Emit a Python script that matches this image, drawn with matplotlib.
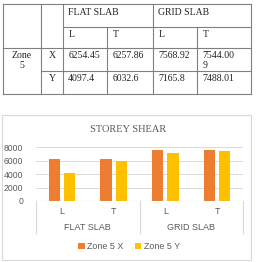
import matplotlib.pyplot as plt
import numpy as np

# chart data
groups = ['FLAT SLAB', 'GRID SLAB']
dirs = ['L', 'T', 'L', 'T']
zone5_x = [6254.45, 6257.86, 7568.92, 7544.009]
zone5_y = [4097.4, 6032.6, 7165.8, 7488.01]
series_names = ['Zone 5 X', 'Zone 5 Y']
yticks = [0, 2000, 4000, 6000, 8000]

# table text (as printed, with the wrapped cell)
table_x = ['6254.45', '6257.86', '7568.92', '7544.00\n9']
table_y = ['4097.4', '6032.6', '7165.8', '7488.01']

W, H = 256, 262
fig = plt.figure(figsize=(W / 100, H / 100), dpi=100)

# overlay in pixel coords for the table and frame
ov = fig.add_axes([0, 0, 1, 1])
ov.set_xlim(0, W)
ov.set_ylim(H, 0)
ov.axis('off')

lc = '#808080'
cols = [3.3, 40.7, 62.7, 107.3, 152.7, 197.3, 250.7]
rows = [4, 26.7, 48.3, 71, 94]


def hline(y, x0, x1):
    ov.plot([x0, x1], [y, y], color=lc, lw=0.8)


def vline(x, y0, y1):
    ov.plot([x, x], [y0, y1], color=lc, lw=0.8)


# outer box
hline(rows[0], cols[0], cols[-1])
hline(rows[-1], cols[0], cols[-1])
vline(cols[0], rows[0], rows[-1])
vline(cols[-1], rows[0], rows[-1])
# inner lines
hline(rows[1], cols[2], cols[-1])
hline(rows[2], cols[0], cols[-1])
hline(rows[3], cols[1], cols[-1])
vline(cols[1], rows[0], rows[-1])
vline(cols[2], rows[0], rows[-1])
vline(cols[4], rows[0], rows[-1])
vline(cols[3], rows[1], rows[-1])
vline(cols[5], rows[1], rows[-1])

tf = dict(family='Liberation Serif', fontsize=7, color='#222222', va='top',
          linespacing=1.05)
ov.text(cols[2] + 5.5, rows[0] + 4, groups[0], **tf)
ov.text(cols[4] + 5.5, rows[0] + 4, groups[1], **tf)
for i, d in enumerate(dirs):
    ov.text(cols[2 + i] + 5.5, rows[1] + 3.5, d, **tf)
ov.text((cols[0] + cols[1]) / 2, rows[2] + 3, 'Zone\n5', ha='center', **tf)
ov.text((cols[1] + cols[2]) / 2 - 3, rows[2] + 3, 'X', **tf)
ov.text((cols[1] + cols[2]) / 2 - 3, rows[3] + 3, 'Y', **tf)
for i in range(4):
    ov.text(cols[2 + i] + 5.5, rows[2] + 3, table_x[i], **tf)
    ov.text(cols[2 + i] + 5.5, rows[3] + 3, table_y[i], **tf)

# chart frame
ov.add_patch(plt.Rectangle((1.7, 115), 249, 145, fill=False,
                           edgecolor='#d9d9d9', lw=0.8))
ov.text(127.7, 129, 'STOREY SHEAR', family='Liberation Serif', fontsize=7.5,
        color='#595959', ha='center', va='center')

# chart axes
px0, px1, py_top, py_bot = 36, 243, 147.3, 201
ax = fig.add_axes([px0 / W, (H - py_bot) / H, (px1 - px0) / W,
                   (py_bot - py_top) / H])
x = np.arange(len(dirs))
bw = 0.218
off = 0.148
ax.bar(x - off, zone5_x, bw, color='#ED7D31', label=series_names[0], zorder=3)
ax.bar(x + off, zone5_y, bw, color='#FFC000', label=series_names[1], zorder=3)
ax.set_xlim(-0.5, len(dirs) - 0.5)
ax.set_ylim(0, 8000)
ax.set_yticks(yticks)
ax.set_yticklabels([str(t) for t in yticks], family='Liberation Sans',
                   fontsize=6.2, color='#595959')
ax.tick_params(axis='y', length=0, pad=9)
ax.set_xticks([])
for s in ax.spines.values():
    s.set_visible(False)
ax.grid(axis='y', color='#d9d9d9', lw=0.7, zorder=0)
ax.axhline(0, color='#bfbfbf', lw=0.8, zorder=4)

# category labels below axis
ah = py_bot - py_top
tr = ax.get_xaxis_transform()
for i, d in enumerate(dirs):
    ax.text(i, -(211.7 - py_bot) / ah, d, transform=tr, ha='center',
            va='center', family='Liberation Sans', fontsize=6.5,
            color='#595959')
for g, name in enumerate(groups):
    ax.text(2 * g + 0.5, -(227.7 - py_bot) / ah, name, transform=tr,
            ha='center', va='center', family='Liberation Sans', fontsize=6.5,
            color='#595959')
for xs in [-0.5, 1.5, 3.5]:
    ax.plot([xs, xs], [0, -(233 - py_bot) / ah], transform=tr,
            color='#d9d9d9', lw=0.8, clip_on=False)

ax.legend(loc='center', bbox_to_anchor=(0.45, -(246.7 - py_bot) / ah),
          ncol=2, frameon=False, handlelength=0.7, handleheight=0.7,
          handletextpad=0.3, columnspacing=1.3, borderaxespad=0,
          prop={'family': 'Liberation Sans', 'size': 6.4},
          labelcolor='#595959')

fig.savefig('out.png', dpi=100)
